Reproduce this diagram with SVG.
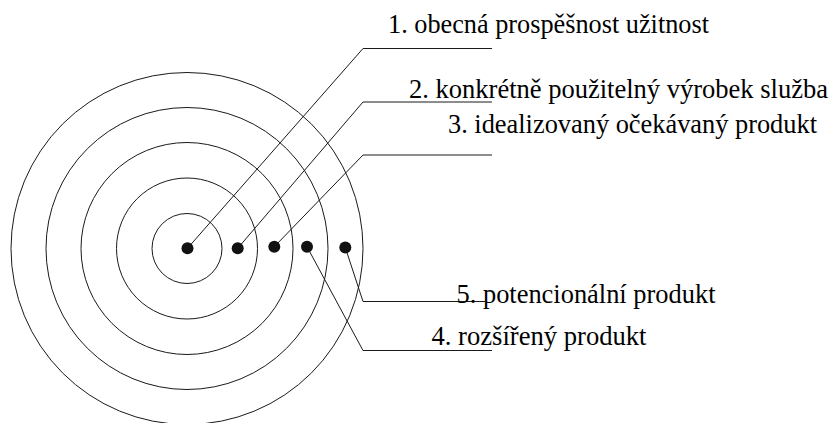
<svg xmlns="http://www.w3.org/2000/svg" width="832" height="423" viewBox="0 0 832 423">
<style>
.ring{fill:none;stroke:#1a1a1a;stroke-width:1}
.lead{fill:none;stroke:#1a1a1a;stroke-width:1}
.dot{fill:#111}
.lbl{font-family:'Liberation Serif','Times New Roman',Times,'DejaVu Serif','Noto Serif',Tinos,serif;font-size:26.5px;fill:#000}
</style>
<rect width="832" height="423" fill="#fff"/>
<g id="rings">
<circle class="ring" cx="187" cy="248.5" r="35"/>
<circle class="ring" cx="187" cy="248.5" r="70.5"/>
<circle class="ring" cx="187" cy="248.5" r="106"/>
<circle class="ring" cx="187" cy="248.5" r="141"/>
<circle class="ring" cx="187" cy="248.5" r="176"/>
</g>
<g id="connectors">
<polyline class="lead" points="187.5,248.3 363,48.5 492,48.5"/>
<polyline class="lead" points="237.7,248.3 363,102 492,102"/>
<polyline class="lead" points="274.3,246.7 363,155 492,155"/>
<polyline class="lead" points="345.3,247.5 363,301.5 485,301.5"/>
<polyline class="lead" points="307,246.7 363,350.5 492,350.5"/>
</g>
<g id="n1"><circle class="dot" cx="187.5" cy="248.3" r="6"/><text class="lbl" x="388" y="33" textLength="321" lengthAdjust="spacingAndGlyphs">1. obecná prospěšnost užitnost</text></g>
<g id="n2"><circle class="dot" cx="237.7" cy="248.3" r="6"/><text class="lbl" x="409" y="98" textLength="419" lengthAdjust="spacingAndGlyphs">2. konkrétně použitelný výrobek služba</text></g>
<g id="n3"><circle class="dot" cx="274.3" cy="246.7" r="6"/><text class="lbl" x="448" y="133" textLength="369" lengthAdjust="spacingAndGlyphs">3. idealizovaný očekávaný produkt</text></g>
<g id="n4"><circle class="dot" cx="307" cy="246.7" r="6"/><text class="lbl" x="431.5" y="345" textLength="215" lengthAdjust="spacingAndGlyphs">4. rozšířený produkt</text></g>
<g id="n5"><circle class="dot" cx="345.3" cy="247.5" r="6"/><text class="lbl" x="456.5" y="303" textLength="259" lengthAdjust="spacingAndGlyphs">5. potencionální produkt</text></g>
</svg>
